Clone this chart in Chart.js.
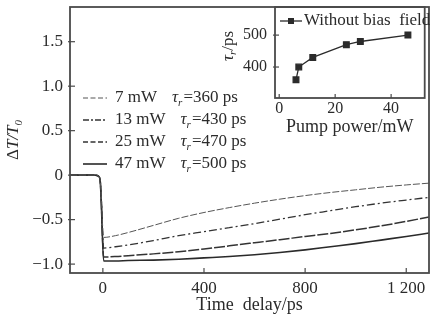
<!DOCTYPE html>
<html>
<head>
<meta charset="utf-8">
<script src="https://cdn.jsdelivr.net/npm/chart.js@4.4.1/dist/chart.umd.min.js"></script>
<style>
  html, body { margin: 0; padding: 0; background: #fff; }
  #wrap { position: relative; width: 430px; height: 320px; }
  #main { position: absolute; left: 0; top: 0; }
  #inset { position: absolute; left: 200px; top: 0; }
</style>
</head>
<body>
<div id="wrap">
  <canvas id="main" width="430" height="320"></canvas>
  <canvas id="inset" width="230" height="140"></canvas>
</div>
<script>
// main panel: time delay (ps) and dT/T0 for each pump power
var timeDelay = [-130, -30, -18, -11, -7, 3, 50, 100, 200, 300, 400, 500, 600, 700, 800, 900, 1000, 1100, 1200, 1290];
var dt7mW  = [0, 0, -0.01, -0.05, -0.20, -0.70, -0.68, -0.645, -0.565, -0.485, -0.42, -0.365, -0.315, -0.27, -0.23, -0.195, -0.165, -0.135, -0.11, -0.09];
var dt13mW = [0, 0, -0.01, -0.05, -0.22, -0.82, -0.805, -0.785, -0.735, -0.68, -0.635, -0.59, -0.545, -0.495, -0.445, -0.40, -0.355, -0.315, -0.28, -0.25];
var dt25mW = [0, 0, -0.01, -0.05, -0.24, -0.92, -0.915, -0.905, -0.885, -0.86, -0.83, -0.795, -0.76, -0.725, -0.69, -0.655, -0.615, -0.57, -0.52, -0.47];
var dt47mW = [0, 0, -0.01, -0.05, -0.25, -0.965, -0.965, -0.96, -0.955, -0.945, -0.93, -0.915, -0.895, -0.87, -0.84, -0.805, -0.77, -0.73, -0.69, -0.65];
var powerLabels = ['7 mW', '13 mW', '25 mW', '47 mW'];
var tauLabels = ['360', '430', '470', '500'];

var timeTicks = [0, 400, 800, 1200];
var timeTickLabels = ['0', '400', '800', '1 200'];
var dtTicks = [-1, -0.5, 0, 0.5, 1, 1.5];
var dtTickLabels = ['\u22121.0', '\u22120.5', '0', '0.5', '1.0', '1.5'];

// inset: rise time vs pump power
var pumpPower = [6, 7, 12, 24, 29, 46];
var riseTime = [360, 400, 430, 470, 480, 500];
var powerTicks = [0, 20, 40];
var riseTicks = [400, 500];

var serif = "'Liberation Serif', 'DejaVu Serif', serif";
var ink = '#2b2b2b';
var axisInk = '#4a4a4a';

function pts(xs, ys) {
  return xs.map(function(x, i) { return { x: x, y: ys[i] }; });
}

var curveDashes = [[7, 2], [8, 3, 2, 3], [11, 2], []];
var curveWidths = [1, 1.3, 1.5, 1.6];
var curveColors = ['#555', '#333', '#333', '#2a2a2a'];
var curveData = [dt7mW, dt13mW, dt25mW, dt47mW];

// no extra room for half tick labels: the frame is placed by hand
function noPad(s) {
  s.paddingTop = 0; s.paddingBottom = 0; s.paddingLeft = 0; s.paddingRight = 0;
}

// draws an axis title made of pieces (some italic / subscript)
function drawPieces(ctx, x, y, pieces, rotate) {
  ctx.save();
  ctx.translate(x, y);
  if (rotate) ctx.rotate(-Math.PI / 2);
  var total = 0;
  pieces.forEach(function(p) {
    ctx.font = (p.italic ? 'italic ' : '') + p.size + 'px ' + serif;
    p.w = ctx.measureText(p.t).width;
    total += p.w;
  });
  var cx = -total / 2;
  ctx.fillStyle = ink;
  ctx.textBaseline = 'middle';
  ctx.textAlign = 'left';
  pieces.forEach(function(p) {
    ctx.font = (p.italic ? 'italic ' : '') + p.size + 'px ' + serif;
    ctx.fillText(p.t, cx, p.dy || 0);
    cx += p.w;
  });
  ctx.restore();
}

function frameAndTicks(tickLen) {
  return {
    id: 'frameAndTicks',
    afterDraw: function(chart) {
      var ctx = chart.ctx, a = chart.chartArea;
      var sx = chart.scales.x, sy = chart.scales.y;
      ctx.save();
      ctx.strokeStyle = axisInk;
      ctx.lineWidth = 1.8;
      ctx.setLineDash([]);
      ctx.strokeRect(a.left, a.top, a.right - a.left, a.bottom - a.top);
      ctx.lineWidth = 1.2;
      sx.ticks.forEach(function(t) {
        var px = sx.getPixelForValue(t.value);
        ctx.beginPath(); ctx.moveTo(px, a.bottom); ctx.lineTo(px, a.bottom - tickLen); ctx.stroke();
      });
      sy.ticks.forEach(function(t) {
        var py = sy.getPixelForValue(t.value);
        ctx.beginPath(); ctx.moveTo(a.left - 2, py); ctx.lineTo(a.left + tickLen, py); ctx.stroke();
      });
      ctx.restore();
    }
  };
}

var mainDecor = {
  id: 'mainDecor',
  afterDraw: function(chart) {
    var ctx = chart.ctx;
    // y title  dT/T0
    drawPieces(ctx, 14, 140, [
      { t: '\u0394', size: 17 },
      { t: 'T/T', size: 17, italic: true },
      { t: '0', size: 11, italic: true, dy: 5 }
    ], true);
    // legend
    var rows = [98, 120, 142, 164];
    ctx.save();
    rows.forEach(function(y, i) {
      ctx.strokeStyle = curveColors[i];
      ctx.lineWidth = curveWidths[i];
      ctx.setLineDash(i === 1 ? [6, 2, 2, 2] : (i === 3 ? [] : [5, 2.5]));
      ctx.beginPath(); ctx.moveTo(83, y); ctx.lineTo(107, y); ctx.stroke();
      ctx.setLineDash([]);
      ctx.fillStyle = ink;
      ctx.textBaseline = 'middle';
      ctx.font = '17px ' + serif;
      ctx.fillText(powerLabels[i], 115, y);
      var x = 115 + ctx.measureText(powerLabels[i]).width + 15;
      ctx.font = 'italic 17px ' + serif;
      ctx.fillText('\u03c4', x, y);
      x += ctx.measureText('\u03c4').width;
      ctx.font = 'italic 11px ' + serif;
      ctx.fillText('r', x, y + 5);
      x += ctx.measureText('r').width + 1;
      ctx.font = '17px ' + serif;
      ctx.fillText('=' + tauLabels[i] + ' ps', x, y);
    });
    ctx.restore();
  }
};

var insetDecor = {
  id: 'insetDecor',
  afterDraw: function(chart) {
    var ctx = chart.ctx;
    drawPieces(ctx, 29, 46, [
      { t: '\u03c4', size: 17, italic: true },
      { t: 'r', size: 11, italic: true, dy: 4 },
      { t: '/ps', size: 17 }
    ], true);
    // legend: line + square marker
    var y = 21;
    ctx.save();
    ctx.strokeStyle = ink;
    ctx.lineWidth = 1.3;
    ctx.beginPath(); ctx.moveTo(80, y); ctx.lineTo(102, y); ctx.stroke();
    ctx.fillStyle = ink;
    ctx.fillRect(88, y - 3, 6, 6);
    ctx.textBaseline = 'middle';
    ctx.font = '17px ' + serif;
    ctx.fillText('Without bias  field', 104, y);
    ctx.restore();
  }
};

new Chart(document.getElementById('main'), {
  type: 'line',
  data: {
    datasets: curveData.map(function(d, i) {
      return {
        label: powerLabels[i],
        data: pts(timeDelay, d),
        borderColor: curveColors[i],
        borderWidth: curveWidths[i],
        borderDash: curveDashes[i],
        pointRadius: 0,
        cubicInterpolationMode: 'monotone',
        fill: false
      };
    })
  },
  options: {
    responsive: false,
    animation: false,
    layout: { padding: { top: 7, right: 1, left: 0, bottom: 0 } },
    plugins: { legend: { display: false }, tooltip: { enabled: false } },
    scales: {
      x: {
        type: 'linear', min: -130, max: 1290,
        afterBuildTicks: function(s) { s.ticks = timeTicks.map(function(v) { return { value: v }; }); },
        afterFit: function(s) { s.height = 47; noPad(s); },
        grid: { display: false, drawTicks: false },
        border: { display: false },
        ticks: {
          padding: 5, color: ink, maxRotation: 0, autoSkip: false,
          font: { family: serif, size: 17 },
          callback: function(v, i) { return timeTickLabels[i]; }
        },
        title: {
          display: true, text: 'Time  delay/ps', color: ink,
          font: { family: serif, size: 18 }, padding: { top: 0, bottom: 4 }
        }
      },
      y: {
        type: 'linear', min: -1.1, max: 1.89,
        afterBuildTicks: function(s) { s.ticks = dtTicks.map(function(v) { return { value: v }; }); },
        afterFit: function(s) { s.width = 70; noPad(s); },
        grid: { display: false, drawTicks: false },
        border: { display: false },
        ticks: {
          padding: 7, color: ink, autoSkip: false,
          font: { family: serif, size: 17 },
          callback: function(v, i) { return dtTickLabels[i]; }
        }
      }
    }
  },
  plugins: [frameAndTicks(5), mainDecor]
});

new Chart(document.getElementById('inset'), {
  type: 'line',
  data: {
    datasets: [{
      label: 'Without bias field',
      data: pts(pumpPower, riseTime),
      borderColor: ink,
      borderWidth: 1.3,
      pointStyle: 'rect',
      pointRadius: 4,
      pointBackgroundColor: ink,
      pointBorderColor: ink,
      tension: 0,
      fill: false
    }]
  },
  options: {
    responsive: false,
    animation: false,
    layout: { padding: { top: 7, right: 1, left: 0, bottom: 0 } },
    plugins: { legend: { display: false }, tooltip: { enabled: false } },
    scales: {
      x: {
        type: 'linear', min: -1.5, max: 52,
        afterBuildTicks: function(s) { s.ticks = powerTicks.map(function(v) { return { value: v }; }); },
        afterFit: function(s) { s.height = 42; noPad(s); },
        grid: { display: false, drawTicks: false },
        border: { display: false },
        ticks: { padding: 1, color: ink, maxRotation: 0, autoSkip: false, font: { family: serif, size: 16 } },
        title: {
          display: true, text: 'Pump power/mW', color: ink,
          font: { family: serif, size: 18 }, padding: { top: 0, bottom: 2 }
        }
      },
      y: {
        type: 'linear', min: 303, max: 588,
        afterBuildTicks: function(s) { s.ticks = riseTicks.map(function(v) { return { value: v }; }); },
        afterFit: function(s) { s.width = 75; noPad(s); },
        grid: { display: false, drawTicks: false },
        border: { display: false },
        ticks: { padding: 8, color: ink, autoSkip: false, font: { family: serif, size: 16 } }
      }
    }
  },
  plugins: [frameAndTicks(4), insetDecor]
});
</script>
</body>
</html>
